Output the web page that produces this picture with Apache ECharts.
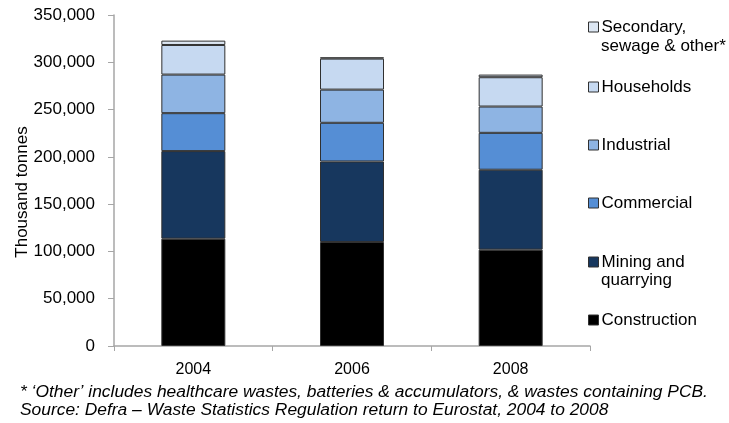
<!DOCTYPE html>
<html>
<head>
<meta charset="utf-8">
<script src="https://cdn.jsdelivr.net/npm/echarts@6/dist/echarts.min.js"></script>
<style>
  html, body { margin: 0; padding: 0; background: #ffffff; }
  #chart { width: 729px; height: 423px; }
</style>
</head>
<body>
<div id="chart"></div>
<script>
// Waste generation by sector, thousand tonnes
const years = ['2004', '2006', '2008'];
const construction = [113500, 110000, 101900];
const mining = [92600, 85100, 84500];
const commercial = [40100, 40900, 39000];
const industrial = [40800, 35100, 27800];
const households = [31300, 32800, 31000];
const secondary = [4600, 1400, 2800];

const yTicks = [0, 50000, 100000, 150000, 200000, 250000, 300000, 350000];

const seriesDefs = [
  { name: 'Construction', data: construction, color: '#000000' },
  { name: 'Mining and quarrying', data: mining, color: '#17375E' },
  { name: 'Commercial', data: commercial, color: '#558ED5' },
  { name: 'Industrial', data: industrial, color: '#8EB4E3' },
  { name: 'Households', data: households, color: '#C6D9F1' },
  { name: 'Secondary, sewage & other*', data: secondary, color: '#DCE6F2' }
];

// first legend line for each series; long names wrap onto a second line
const legendFirstLine = {
  'Construction': 'Construction',
  'Mining and quarrying': 'Mining and',
  'Commercial': 'Commercial',
  'Industrial': 'Industrial',
  'Households': 'Households',
  'Secondary, sewage & other*': 'Secondary,'
};
const legendCenters = {
  'Secondary, sewage & other*': 27,
  'Households': 87,
  'Industrial': 145,
  'Commercial': 203,
  'Mining and quarrying': 262,
  'Construction': 320
};

const FONT = 'Liberation Sans, Arial, sans-serif';

const chart = echarts.init(document.getElementById('chart'), null, { renderer: 'canvas' });

const legends = seriesDefs.map(s => ({
  data: [s.name],
  left: 588,
  top: legendCenters[s.name] - 10,
  padding: 0,
  itemWidth: 10,
  itemHeight: 10,
  icon: 'rect',
  selectedMode: false,
  formatter: n => legendFirstLine[n],
  itemStyle: { borderColor: '#303030', borderWidth: 1 },
  textStyle: { fontFamily: FONT, fontSize: 17, color: '#000', lineHeight: 20, padding: [0, 0, 0, -2] }
}));

chart.setOption({
  animation: false,
  backgroundColor: '#ffffff',
  grid: { left: 114, right: 139, top: 15, bottom: 77, containLabel: false },
  legend: legends,
  xAxis: {
    type: 'category',
    data: years,
    axisLine: { lineStyle: { color: '#A6A6A6', width: 1.5 } },
    axisTick: { show: true, length: 5, lineStyle: { color: '#A6A6A6' } },
    axisLabel: { fontFamily: FONT, fontSize: 16, color: '#000', margin: 16 }
  },
  yAxis: {
    type: 'value',
    min: yTicks[0],
    max: yTicks[yTicks.length - 1],
    interval: yTicks[1] - yTicks[0],
    splitLine: { show: false },
    axisLine: { show: true, lineStyle: { color: '#A6A6A6', width: 1.5 } },
    axisTick: { show: true, length: 6, lineStyle: { color: '#A6A6A6' } },
    axisLabel: {
      fontFamily: FONT, fontSize: 17, color: '#000', margin: 19,
      formatter: v => v.toLocaleString('en-US')
    }
  },
  series: seriesDefs.map(s => ({
    name: s.name,
    type: 'bar',
    stack: 'total',
    data: s.data,
    barWidth: 64,
    itemStyle: { color: s.color, borderColor: '#303030', borderWidth: 1 }
  })),
  graphic: [
    {
      // y-axis title
      type: 'text', x: 22, y: 192, rotation: Math.PI / 2,
      style: {
        text: 'Thousand tonnes', font: '17px ' + FONT, fill: '#000',
        align: 'center', verticalAlign: 'middle'
      }
    },
    {
      type: 'text', left: 601, top: 38,
      style: { text: 'sewage & other*', font: '17px ' + FONT, fill: '#000' }
    },
    {
      type: 'text', left: 601, top: 272,
      style: { text: 'quarrying', font: '17px ' + FONT, fill: '#000' }
    },
    {
      type: 'text', left: 20, top: 384,
      style: {
        text: '* \u2018Other\u2019 includes healthcare wastes, batteries & accumulators, & wastes containing PCB.',
        font: 'italic 17.4px ' + FONT, fill: '#000'
      }
    },
    {
      type: 'text', left: 20, top: 402,
      style: {
        text: 'Source: Defra \u2013 Waste Statistics Regulation return to Eurostat, 2004 to 2008',
        font: 'italic 17.4px ' + FONT, fill: '#000'
      }
    }
  ]
});
</script>
</body>
</html>
